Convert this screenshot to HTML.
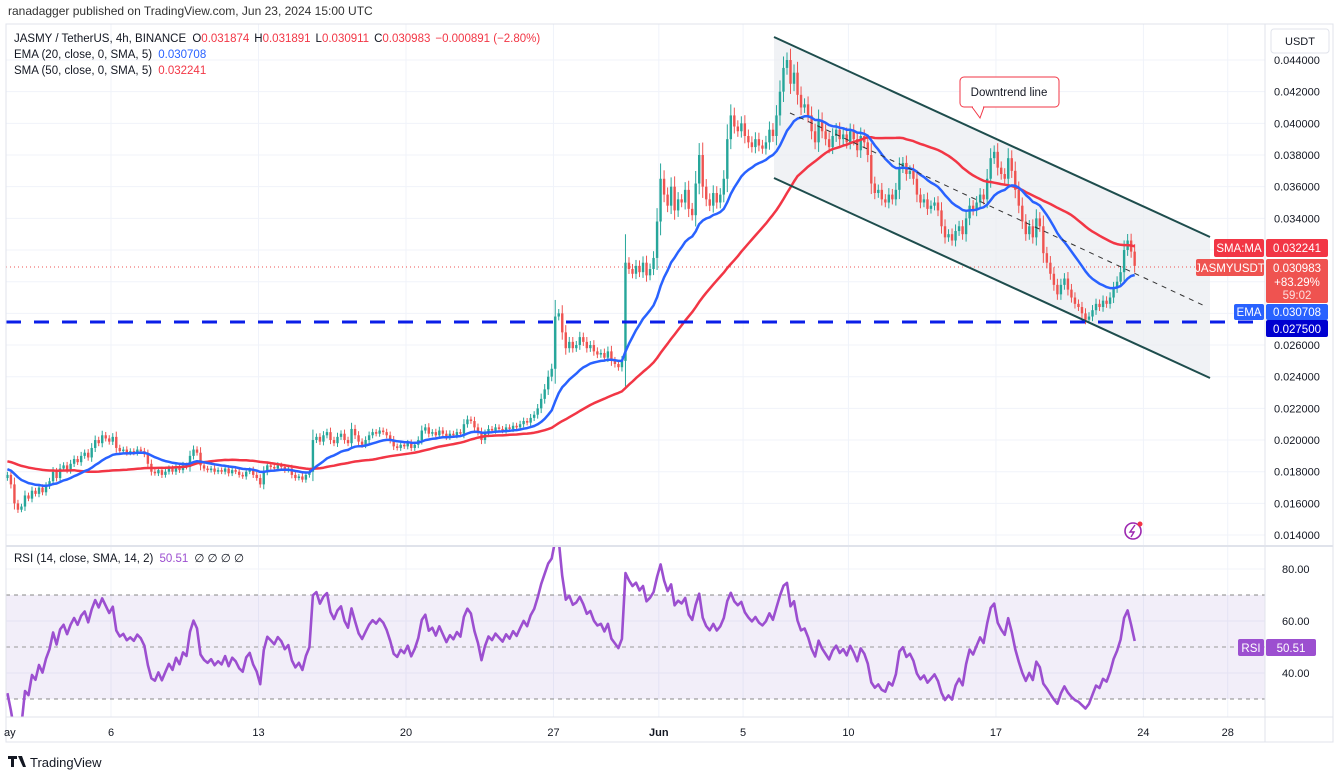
<!DOCTYPE html>
<html><head><meta charset="utf-8"><style>
body{margin:0;background:#fff;font-family:"Liberation Sans",sans-serif;}
svg{display:block}
text{font-family:"Liberation Sans",sans-serif;}
</style></head><body>
<svg id="c" width="1339" height="776" viewBox="0 0 1339 776">
<defs><clipPath id="mainClip"><rect x="6" y="24" width="1259" height="521"/></clipPath>
<clipPath id="rsiClip"><rect x="6" y="547" width="1259" height="170"/></clipPath></defs>
<rect x="0" y="0" width="1339" height="776" fill="#fff"/>
<text x="8" y="15" font-size="12" fill="#333">ranadagger published on TradingView.com, Jun 23, 2024 15:00 UTC</text>
<g id="grid"></g>
<polygon points="774,37 1210,237 1210,378 774,178" fill="#e9ecf1" opacity="0.7"/>
<line x1="6" y1="267" x2="1265" y2="267" stroke="#ef5350" stroke-width="1" stroke-dasharray="1,3"/>
<g id="candles" clip-path="url(#mainClip)"></g>
<g id="mas" clip-path="url(#mainClip)"></g>
<line x1="774" y1="37" x2="1210" y2="237" stroke="#1e4d4d" stroke-width="2"/>
<line x1="774" y1="178" x2="1210" y2="378" stroke="#1e4d4d" stroke-width="2"/>
<line x1="790" y1="113" x2="1207" y2="307" stroke="#333" stroke-width="1" stroke-dasharray="5,5"/>
<line x1="6" y1="322" x2="1265" y2="322" stroke="#0a1ee8" stroke-width="3" stroke-dasharray="15,13"/>
<g>
<path d="M972,107 L980,118 L984,107" fill="#fff" stroke="#f23645" stroke-width="1"/>
<rect x="960" y="77" width="99" height="30" rx="4" fill="#fff" stroke="#f23645" stroke-width="1"/>
<line x1="973" y1="107" x2="983" y2="107" stroke="#fff" stroke-width="2"/>
<text x="1009" y="96" font-size="11.5" fill="#131722" text-anchor="middle">Downtrend line</text>
</g>
<g><circle cx="1133" cy="531" r="8" fill="#fff" stroke="#9c27b0" stroke-width="1.6"/><path d="M1135,525 L1130,532 L1134,532 L1131,537" fill="none" stroke="#9c27b0" stroke-width="1.4"/><circle cx="1140" cy="524" r="2.5" fill="#f23645"/></g>
<!-- RSI pane -->
<rect x="6" y="595" width="1259" height="104" fill="#7e57c2" opacity="0.1"/>
<line x1="6" y1="595" x2="1265" y2="595" stroke="#888" stroke-dasharray="4,4"/>
<line x1="6" y1="647" x2="1265" y2="647" stroke="#999" stroke-dasharray="4,4"/>
<line x1="6" y1="699" x2="1265" y2="699" stroke="#888" stroke-dasharray="4,4"/>
<g id="rsi" clip-path="url(#rsiClip)"></g>
<!-- frame -->
<rect x="6" y="24" width="1327" height="718" fill="none" stroke="#e0e3eb"/>
<line x1="6" y1="546" x2="1333" y2="546" stroke="#e0e3eb" stroke-width="2"/>
<line x1="6" y1="717" x2="1333" y2="717" stroke="#e0e3eb"/>
<line x1="1265" y1="24" x2="1265" y2="742" stroke="#e0e3eb"/>
<g id="axes"></g>
<rect x="1271" y="29" width="58" height="24" rx="3" fill="#fff" stroke="#e0e3eb"/>
<text x="1300" y="45" font-size="11" fill="#131722" text-anchor="middle">USDT</text>
<!-- legend -->
<g font-size="11.5">
<text x="14" y="42" fill="#131722">JASMY / TetherUS, 4h, BINANCE <tspan dx="3">O</tspan><tspan fill="#f23645">0.031874</tspan><tspan dx="5">H</tspan><tspan fill="#f23645">0.031891</tspan><tspan dx="5">L</tspan><tspan fill="#f23645">0.030911</tspan><tspan dx="5">C</tspan><tspan fill="#f23645">0.030983</tspan><tspan dx="5" fill="#f23645">−0.000891 (−2.80%)</tspan></text>
<text x="14" y="58" fill="#131722">EMA (20, close, 0, SMA, 5) <tspan dx="3" fill="#2962ff">0.030708</tspan></text>
<text x="14" y="74" fill="#131722">SMA (50, close, 0, SMA, 5) <tspan dx="3" fill="#f23645">0.032241</tspan></text>
<text x="14" y="562" fill="#131722">RSI (14, close, SMA, 14, 2) <tspan dx="3" fill="#9c4fd0">50.51</tspan><tspan dx="6">∅  ∅  ∅  ∅</tspan></text>
</g>
<!-- price labels -->
<g font-size="11.5">
<rect x="1214" y="239" width="50" height="18" rx="2" fill="#f23645"/>
<text x="1239" y="252" fill="#fff" text-anchor="middle">SMA:MA</text>
<rect x="1266" y="239" width="62" height="18" rx="2" fill="#f23645"/>
<text x="1297" y="252" fill="#fff" text-anchor="middle">0.032241</text>
<rect x="1196" y="259" width="68" height="17" rx="2" fill="#ef5350"/>
<text x="1230" y="272" fill="#fff" text-anchor="middle">JASMYUSDT</text>
<rect x="1266" y="259" width="62" height="44" rx="2" fill="#ef5350"/>
<text x="1297" y="272" fill="#fff" text-anchor="middle">0.030983</text>
<text x="1297" y="286" fill="#fff" text-anchor="middle">+83.29%</text>
<text x="1297" y="299" fill="#fde0e0" text-anchor="middle">59:02</text>
<rect x="1234" y="304" width="30" height="16" rx="2" fill="#2962ff"/>
<text x="1249" y="316" fill="#fff" text-anchor="middle">EMA</text>
<rect x="1266" y="304" width="62" height="16" rx="2" fill="#2962ff"/>
<text x="1297" y="316" fill="#fff" text-anchor="middle">0.030708</text>
<rect x="1266" y="320" width="62" height="17" rx="2" fill="#0000d0"/>
<text x="1297" y="333" fill="#fff" text-anchor="middle">0.027500</text>
<rect x="1238" y="639" width="26" height="17" rx="2" fill="#9c4fd0"/>
<text x="1251" y="652" fill="#fff" text-anchor="middle">RSI</text>
<rect x="1266" y="639" width="50" height="17" rx="2" fill="#9c4fd0"/>
<text x="1291" y="652" fill="#fff" text-anchor="middle">50.51</text>
</g>
<g>
<path d="M8,756 h9 v3 h-3 v8 h-3 v-8 h-3 z M18,756 h4 l4,11 h-3 z" fill="#131722"/>
<text x="30" y="767" font-size="13" fill="#131722">TradingView</text>
</g>
</svg>
<script>
const priorCloses=[0.0205,0.0202,0.0200,0.0198,0.0200,0.0196,0.0194,0.0195,0.0192,0.0190,0.0191,0.0188,0.0190,0.0187,0.0185,0.0186,0.0183,0.0184,0.0182,0.0180,0.0181,0.0179,0.0180,0.0178,0.0177,0.0178,0.0176,0.0177,0.0175,0.0176];
const closes=[
0.0178,0.0172,0.0160,0.0156,0.0158,0.0165,
0.0163,0.0168,0.0166,0.0170,0.0167,0.0171,
0.0174,0.0180,0.0176,0.0182,0.0184,0.0181,
0.0185,0.0188,0.0186,0.0190,0.0192,0.0189,
0.0195,0.0200,0.0198,0.0203,0.0201,0.0199,
0.0202,0.0195,0.0193,0.0194,0.0192,0.0193,
0.0192,0.0194,0.0193,0.0191,0.0185,0.0180,
0.0179,0.0181,0.0178,0.0180,0.0182,0.0180,
0.0183,0.0181,0.0184,0.0183,0.0190,0.0194,
0.0192,0.0184,0.0182,0.0181,0.0182,0.0180,
0.0181,0.0180,0.0182,0.0179,0.0181,0.0180,
0.0178,0.0177,0.0180,0.0181,0.0178,0.0176,
0.0172,0.0180,0.0184,0.0183,0.0182,0.0184,
0.0183,0.0181,0.0182,0.0178,0.0176,0.0177,
0.0175,0.0178,0.0180,0.0200,0.0202,0.0199,
0.0203,0.0205,0.0200,0.0198,0.0202,0.0204,
0.0200,0.0198,0.0207,0.0203,0.0199,0.0197,
0.0200,0.0203,0.0205,0.0204,0.0206,0.0205,
0.0203,0.0200,0.0196,0.0195,0.0197,0.0196,
0.0198,0.0195,0.0197,0.0200,0.0206,0.0208,
0.0204,0.0205,0.0203,0.0206,0.0204,0.0202,
0.0204,0.0203,0.0205,0.0204,0.0210,0.0213,
0.0212,0.0208,0.0205,0.0200,0.0204,0.0207,
0.0206,0.0208,0.0207,0.0206,0.0208,0.0207,
0.0209,0.0208,0.0210,0.0212,0.0211,0.0214,
0.0216,0.0220,0.0226,0.0232,0.0240,0.0245,
0.0278,0.0280,0.0268,0.0258,0.0262,0.0258,
0.0260,0.0265,0.0262,0.0258,0.0260,0.0256,
0.0254,0.0255,0.0252,0.0256,0.0250,0.0248,
0.0246,0.0250,0.0312,0.0308,0.0305,0.0310,
0.0306,0.0312,0.0304,0.0308,0.0315,0.0338,
0.0365,0.0355,0.0348,0.0360,0.0345,0.0352,
0.0350,0.0358,0.0346,0.0342,0.0362,0.0380,
0.0360,0.0352,0.0348,0.0356,0.0350,0.0355,
0.0365,0.0390,0.0405,0.0398,0.0395,0.0400,
0.0392,0.0388,0.0385,0.0390,0.0386,0.0384,
0.0388,0.0396,0.0392,0.0405,0.0420,0.0435,
0.0440,0.0425,0.0432,0.0418,0.0410,0.0412,
0.0405,0.0395,0.0388,0.0402,0.0395,0.0390,
0.0385,0.0392,0.0396,0.0390,0.0393,0.0388,
0.0395,0.0390,0.0383,0.0392,0.0388,0.0380,
0.0362,0.0356,0.0358,0.0352,0.0350,0.0355,
0.0352,0.0358,0.0372,0.0375,0.0368,0.0370,
0.0365,0.0355,0.0350,0.0352,0.0346,0.0348,
0.0350,0.0345,0.0335,0.0328,0.0330,0.0326,
0.0332,0.0335,0.0330,0.0340,0.0348,0.0345,
0.0350,0.0355,0.0352,0.0365,0.0378,0.0382,
0.0372,0.0368,0.0365,0.0378,0.0370,0.0358,
0.0348,0.0338,0.0330,0.0335,0.0328,0.0340,
0.0335,0.0318,0.0312,0.0305,0.0298,0.0292,
0.0298,0.0302,0.0295,0.0290,0.0286,0.0284,
0.0280,0.0276,0.0278,0.0282,0.0286,0.0284,
0.0288,0.0286,0.0290,0.0296,0.0300,0.0306,
0.0320,0.0326,0.0319,0.0310];
const priceTicks=[0.044,0.042,0.040,0.038,0.036,0.034,0.032,0.030,0.028,0.026,0.024,0.022,0.020,0.018,0.016,0.014];
const hiddenPriceTicks=[0.032,0.030,0.028];
const rsiTicks=[80,60,40];
const dateLabels=['ay','6','13','20','27','Jun','5','10','17','24','28'];
const dateDays=[0,5,12,19,26,31,35,40,47,54,58];

const NS='http://www.w3.org/2000/svg';
function mk(tag,attrs,parent){const e=document.createElementNS(NS,tag);for(const k in attrs)e.setAttribute(k,attrs[k]);parent.appendChild(e);return e;}
const xDay=d=>5.65+d*21.07;
const xOf=i=>5.65+(i+0.5)*21.07/6;
const yP=p=>60+(0.044-p)/0.002*31.67;
const yR=r=>647-(r-50)*2.6;

const grid=document.getElementById('grid'),axes=document.getElementById('axes');
priceTicks.forEach(p=>{
  const l=mk('line',{x1:6,x2:1265,y1:yP(p),y2:yP(p),stroke:'#f0f3fa'},grid);
  
  
  if(hiddenPriceTicks.includes(p))return;
  const t=mk('text',{x:1274,y:yP(p)+4,'font-size':11,fill:'#131722'},axes);
  t.textContent=p.toFixed(6);
  
  
});
rsiTicks.forEach(r=>{
  const l=mk('line',{x1:6,x2:1265,y1:yR(r),y2:yR(r),stroke:'#f0f3fa'},grid);
  
  
  const t=mk('text',{x:1282,y:yR(r)+4,'font-size':11,fill:'#131722'},axes);
  t.textContent=r.toFixed(2);
  
  
});
dateLabels.forEach((s,k)=>{
  const x=xDay(dateDays[k]);
  if(k>0){const l=mk('line',{x1:x,x2:x,y1:24,y2:717,stroke:'#f0f3fa'},grid);
  
  }
  const t=mk('text',{x:k===0?4:x,y:736,'font-size':11,fill:'#131722','text-anchor':k===0?'start':'middle','font-weight':s==='Jun'?'bold':'normal'},axes);
  t.textContent=s;
  
  
});

// candles
const cg=document.getElementById('candles');
closes.forEach((c,i)=>{
  const o=i===0?priorCloses[priorCloses.length-1]:closes[i-1];
  const up=c>=o,col=up?'#26a69a':'#ef5350';
  const w=Math.abs(c-o)*0.25+c*0.008;
  const hi=Math.max(o,c)+w,lo=Math.min(o,c)-w*0.9;
  const x=xOf(i);
  const wk=mk('line',{x1:x,x2:x,y1:yP(hi),y2:yP(lo),stroke:col,'stroke-width':1},cg);
  
  
  const top=yP(Math.max(o,c)),h=Math.max(1,yP(Math.min(o,c))-top);
  const b=mk('rect',{x:x-1.2,y:top,width:2.4,height:h,fill:col},cg);
  
  
});

// indicators
const all=priorCloses.concat(closes),P=priorCloses.length;
let ema=all[0];const emaPts=[],smaPts=[];
all.forEach((c,j)=>{
  ema=j===0?c:ema+(c-ema)*2/21;
  const s=all.slice(Math.max(0,j-49),j+1);
  const sma=s.reduce((a,b)=>a+b,0)/s.length;
  if(j>=P){const i=j-P;emaPts.push(xOf(i).toFixed(1)+','+yP(ema).toFixed(1));smaPts.push(xOf(i).toFixed(1)+','+yP(sma).toFixed(1));}
});
const mg=document.getElementById('mas');
const smaLine=mk('polyline',{points:smaPts.join(' '),fill:'none',stroke:'#f23645','stroke-width':2.5,'stroke-linejoin':'round'},mg);


const emaLine=mk('polyline',{points:emaPts.join(' '),fill:'none',stroke:'#2962ff','stroke-width':2.5,'stroke-linejoin':'round'},mg);



// RSI (Wilder 14)
let ag=0,al=0;const rsiPts=[];
for(let j=1;j<all.length;j++){
  const d=all[j]-all[j-1],g=Math.max(d,0),l=Math.max(-d,0);
  if(j<=14){ag+=g/14;al+=l/14;}else{ag=(ag*13+g)/14;al=(al*13+l)/14;}
  if(j>=P){const r=al===0?100:100-100/(1+ag/al);rsiPts.push(xOf(j-P).toFixed(1)+','+yR(r).toFixed(1));}
}
const rg=document.getElementById('rsi');
const rl=mk('polyline',{points:rsiPts.join(' '),fill:'none',stroke:'#9c4fd0','stroke-width':2.6,'stroke-linejoin':'round'},rg);


</script>
</body></html>
